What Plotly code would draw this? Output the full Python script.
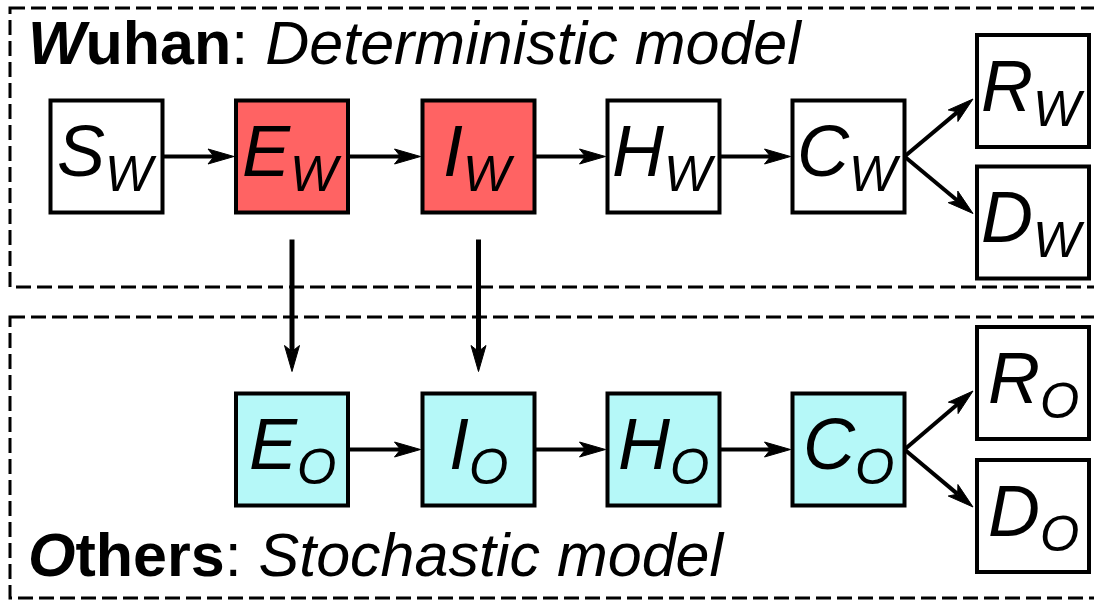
import plotly.graph_objects as go
import math

# ---------------- data ----------------
top_nodes = ["S", "E", "I", "H", "C", "R", "D"]
top_sub = "W"
bottom_nodes = ["E", "I", "H", "C", "R", "D"]
bottom_sub = "O"
infectious = ["E", "I"]               # highlighted in Wuhan
stochastic = ["E", "I", "H", "C"]     # highlighted in Others
chain_edges = [("S", "E"), ("E", "I"), ("I", "H"), ("H", "C")]
branch_edges = [("C", "R"), ("C", "D")]
cross_edges = ["E", "I"]              # Wuhan -> Others
top_title_bold, top_title_rest = "Wuhan", "Deterministic model"
bottom_title_bold, bottom_title_rest = "Others", "Stochastic model"

# ---------------- layout (screen pixels) ----------------
W, H = 1094, 600
BOX = 112
col_x = {"S": 106.5, "E": 292, "I": 478.5, "H": 663.5, "C": 848.5, "R": 1033, "D": 1033}
row_top = {"main": 156.5, "R": 91, "D": 222.5}
row_bot = {"main": 449.5, "R": 383, "D": 516}
RED = "#FF6363"
CYAN = "#B5F8F8"
FONT = "Liberation Sans, Arial, sans-serif"

shapes = []
annotations = []


def node_center(name, rows):
    return col_x[name], rows.get(name, rows["main"])


def add_box(name, sub, rows, fill):
    cx, cy = node_center(name, rows)
    shapes.append(dict(type="rect", x0=cx - BOX / 2, x1=cx + BOX / 2,
                       y0=cy - BOX / 2, y1=cy + BOX / 2,
                       line=dict(color="black", width=4), fillcolor=fill, layer="below"))
    annotations.append(dict(x=cx, y=cy, xref="x", yref="y", showarrow=False,
                            xanchor="center", yanchor="middle",
                            text=f"<i>{name}<sub>{sub}</sub></i>",
                            font=dict(family=FONT, size=72, color="black")))


def add_arrow(x0, y0, x1, y1, width=4, head_len=26, head_half=7.5, notch=6):
    dx, dy = x1 - x0, y1 - y0
    L = math.hypot(dx, dy)
    ux, uy = dx / L, dy / L
    nx, ny = -uy, ux
    sx, sy = x1 - (head_len - notch) * ux, y1 - (head_len - notch) * uy
    shapes.append(dict(type="line", x0=x0, y0=y0, x1=sx, y1=sy,
                       line=dict(color="black", width=width)))
    bx, by = x1 - head_len * ux, y1 - head_len * uy
    p = (f"M{x1},{y1} L{bx + head_half * nx},{by + head_half * ny} "
         f"L{sx},{sy} L{bx - head_half * nx},{by - head_half * ny} Z")
    shapes.append(dict(type="path", path=p, fillcolor="black",
                       line=dict(color="black", width=1)))


# dashed group frames
shapes.append(dict(type="rect", x0=10, x1=1120, y0=8, y1=287,
                   line=dict(color="black", width=3, dash="15px,6px"), layer="below"))
shapes.append(dict(type="rect", x0=10, x1=1120, y0=317, y1=598,
                   line=dict(color="black", width=3, dash="15px,6px"), layer="below"))

# nodes
for n in top_nodes:
    add_box(n, top_sub, row_top, RED if n in infectious else "white")
for n in bottom_nodes:
    add_box(n, bottom_sub, row_bot, CYAN if n in stochastic else "white")

# edges
for rows, names in ((row_top, top_nodes), (row_bot, bottom_nodes)):
    for a, b in chain_edges:
        if a in names and b in names:
            ax, ay = node_center(a, rows)
            bx, by = node_center(b, rows)
            add_arrow(ax + BOX / 2, ay, bx - BOX / 2 - 2, by)
    for a, b in branch_edges:
        ax, ay = node_center(a, rows)
        bx, by = node_center(b, rows)
        ty = by + (8 if by < ay else -9)
        add_arrow(ax + BOX / 2, ay, bx - BOX / 2 - 4, ty)

for n in cross_edges:
    cx, cy = node_center(n, row_top)
    _, by = node_center(n, row_bot)
    add_arrow(cx, cy + BOX / 2 + 27, cx, by - BOX / 2 - 22, width=5, head_len=26, head_half=7.5)

# titles
annotations.append(dict(x=26, y=43, xref="x", yref="y", showarrow=False,
                        xanchor="left", yanchor="middle",
                        text=f"<b><i>{top_title_bold[0]}</i>{top_title_bold[1:]}</b>: <i>{top_title_rest}</i>",
                        font=dict(family=FONT, size=61, color="black")))
annotations.append(dict(x=26, y=555, xref="x", yref="y", showarrow=False,
                        xanchor="left", yanchor="middle",
                        text=f"<b><i>{bottom_title_bold[0]}</i>{bottom_title_bold[1:]}</b>: <i>{bottom_title_rest}</i>",
                        font=dict(family=FONT, size=61, color="black")))

fig = go.Figure()
fig.update_layout(
    width=W, height=H, margin=dict(l=0, r=0, t=0, b=0),
    paper_bgcolor="white", plot_bgcolor="white",
    xaxis=dict(range=[0, W], visible=False, fixedrange=True),
    yaxis=dict(range=[H, 0], visible=False, fixedrange=True),
    shapes=shapes, annotations=annotations, showlegend=False,
)
fig.write_html(
    "out.html",
    config={"displayModeBar": False},
    post_script="document.body.style.margin='0';document.body.style.overflow='hidden';",
)
